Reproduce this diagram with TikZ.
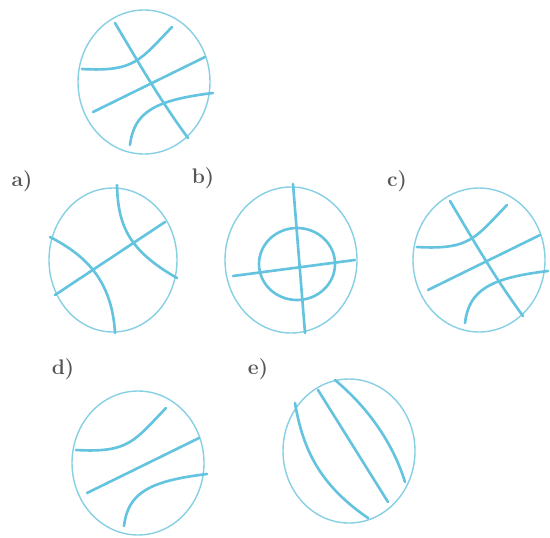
\documentclass[tikz,border=0pt]{standalone}
\usepackage{xcolor}
\usepackage{tikz}

\definecolor{rimcol}{RGB}{135,208,228}
\definecolor{seamcol}{RGB}{100,195,222}
\definecolor{lblcol}{RGB}{85,85,85}

\begin{document}
\begin{tikzpicture}[
    x=0.02cm, y=-0.02cm,
    rim/.style={draw=rimcol, line width=0.8pt},
    seam/.style={draw=seamcol, line width=1.5pt, line cap=round},
    lbl/.style={text=lblcol, font=\large\bfseries, inner sep=0pt}
]
    \useasboundingbox (0,0) rectangle (550,537);

    % top ball
    \draw[rim] (144,82) ellipse [x radius=66, y radius=72];
    \draw[seam] (115,23) .. controls (140,65) and (160,100) .. (188,138);
    \draw[seam] (82,69) .. controls (135,72) and (140,60) .. (172,27);
    \draw[seam] (93,112) -- (205,57);
    \draw[seam] (130,145) .. controls (134,112) and (155,100) .. (213,93);

    % a)
    \node[lbl] (la) at (22,181) {a)};
    \draw[rim] (113,260) ellipse [x radius=64, y radius=72];
    \draw[seam] (55,295) -- (165,222);
    \draw[seam] (50,237) .. controls (85,255) and (112,280) .. (115,333);
    \draw[seam] (117,185) .. controls (118,225) and (128,250) .. (177,278);

    % b)
    \node[lbl] (lb) at (203,178) {b)};
    \draw[rim] (291,260) ellipse [x radius=66, y radius=73];
    \draw[seam] (297,264) ellipse [x radius=38, y radius=36];
    \draw[seam] (293,184) -- (305,333);
    \draw[seam] (233,276) -- (355,260);

    % c) same as top
    \node[lbl] (lc) at (397,181) {c)};
    \begin{scope}[shift={(335,178)}]
        \draw[rim] (144,82) ellipse [x radius=66, y radius=72];
        \draw[seam] (115,23) .. controls (140,65) and (160,100) .. (188,138);
        \draw[seam] (82,69) .. controls (135,72) and (140,60) .. (172,27);
        \draw[seam] (93,112) -- (205,57);
        \draw[seam] (130,145) .. controls (134,112) and (155,100) .. (213,93);
    \end{scope}

    % d) top without the long diagonal
    \node[lbl] (ld) at (63,369) {d)};
    \begin{scope}[shift={(-6,381)}]
        \draw[rim] (144,82) ellipse [x radius=66, y radius=72];
        \draw[seam] (82,69) .. controls (135,72) and (140,60) .. (172,27);
        \draw[seam] (93,112) -- (205,57);
        \draw[seam] (130,145) .. controls (134,112) and (155,100) .. (213,93);
    \end{scope}

    % e)
    \node[lbl] (le) at (258,369) {e)};
    \draw[rim] (349,451) ellipse [x radius=66, y radius=72];
    \draw[seam] (295,403) .. controls (303,450) and (320,485) .. (368,518);
    \draw[seam] (318,390) -- (388,502);
    \draw[seam] (335,380) .. controls (365,405) and (392,440) .. (405,482);
\end{tikzpicture}
\end{document}
